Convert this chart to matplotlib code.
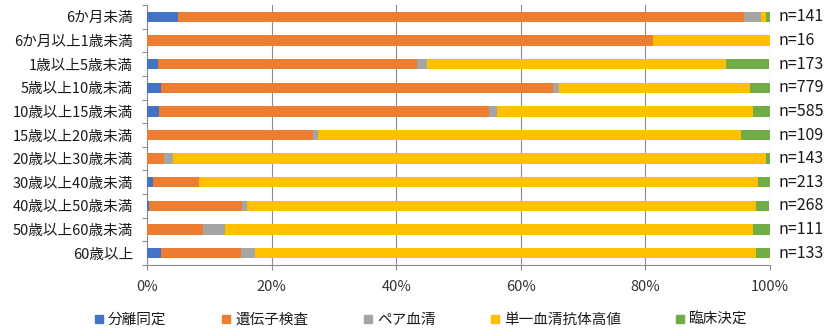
import matplotlib
matplotlib.use("Agg")
import matplotlib.pyplot as plt
from matplotlib.patches import Rectangle
from matplotlib.ticker import FixedLocator, PercentFormatter
import numpy as np

plt.rcParams['font.family'] = ['Noto Sans CJK JP', 'DejaVu Sans']

categories = ["6か月未満", "6か月以上1歳未満", "1歳以上5歳未満", "5歳以上10歳未満",
              "10歳以上15歳未満", "15歳以上20歳未満", "20歳以上30歳未満",
              "30歳以上40歳未満", "40歳以上50歳未満", "50歳以上60歳未満", "60歳以上"]
n_labels = ["n=141", "n=16", "n=173", "n=779", "n=585", "n=109",
            "n=143", "n=213", "n=268", "n=111", "n=133"]

series_names = ["分離同定", "遺伝子検査", "ペア血清", "単一血清抗体高値", "臨床決定"]
isolation   = [5.0, 0.0, 1.7, 2.2, 1.9, 0.0, 0.0, 0.9, 0.4, 0.0, 2.3]
genetic     = [90.8, 81.2, 41.6, 62.9, 53.0, 26.6, 2.8, 7.5, 14.9, 9.0, 12.8]
paired      = [2.8, 0.0, 1.7, 1.0, 1.2, 0.9, 1.4, 0.0, 0.7, 3.6, 2.3]
single_high = [0.7, 18.8, 48.0, 30.7, 41.2, 67.9, 95.1, 89.7, 81.7, 84.7, 80.4]
clinical    = [0.7, 0.0, 6.9, 3.2, 2.7, 4.6, 0.7, 1.9, 2.2, 2.7, 2.3]
colors = ["#4472C4", "#ED7D31", "#A5A5A5", "#FFC000", "#70AD47"]

fig = plt.figure(figsize=(8.28, 3.32), dpi=100)
ax = fig.add_axes([147/828, 1-265/332, (770-147)/828, (265-5)/332])

y = np.arange(len(categories))
left = np.zeros(len(categories))
for vals, c, name in zip([isolation, genetic, paired, single_high, clinical], colors, series_names):
    v = np.array(vals)
    ax.barh(y, v, left=left, height=0.44, color=c, label=name, zorder=3)
    left += v

ax.set_xlim(0, 100)
ax.set_ylim(len(categories) - 0.5, -0.5)
ax.set_yticks(y)
ax.set_yticklabels(categories, fontsize=10.5, color="#1a1a1a")
ax.yaxis.set_minor_locator(FixedLocator(np.arange(-0.5, len(categories), 1.0)))
ax.tick_params(axis='y', which='major', length=0, pad=10)
ax.tick_params(axis='y', which='minor', length=3.5, color="#8c8c8c", width=0.8)
ax.set_xticks(np.arange(0, 101, 20))
ax.xaxis.set_major_formatter(PercentFormatter(decimals=0))
ax.tick_params(axis='x', length=3.5, color="#8c8c8c", width=0.8, labelsize=10.5,
               labelcolor="#333333", pad=7)
ax.grid(axis='x', color="#8c8c8c", linewidth=0.8, zorder=0)
for s in ['top', 'right']:
    ax.spines[s].set_visible(False)
for s in ['left', 'bottom']:
    ax.spines[s].set_color("#8c8c8c")
    ax.spines[s].set_linewidth(0.8)

for yi, lab in zip(y, n_labels):
    ax.text(1.013, yi, lab, transform=ax.get_yaxis_transform(), va='center', ha='left',
            fontsize=11.5, color="#1a1a1a")

handles = [Rectangle((0, 0), 1, 1, color=c) for c in colors]
fig.legend(handles, series_names, loc='center', bbox_to_anchor=(0.509, 0.036), ncol=5,
           frameon=False, fontsize=10.5, handlelength=0.55, handleheight=0.55,
           handletextpad=0.35, columnspacing=3.8, labelcolor="#1a1a1a")

fig.savefig("out.png", dpi=100)
